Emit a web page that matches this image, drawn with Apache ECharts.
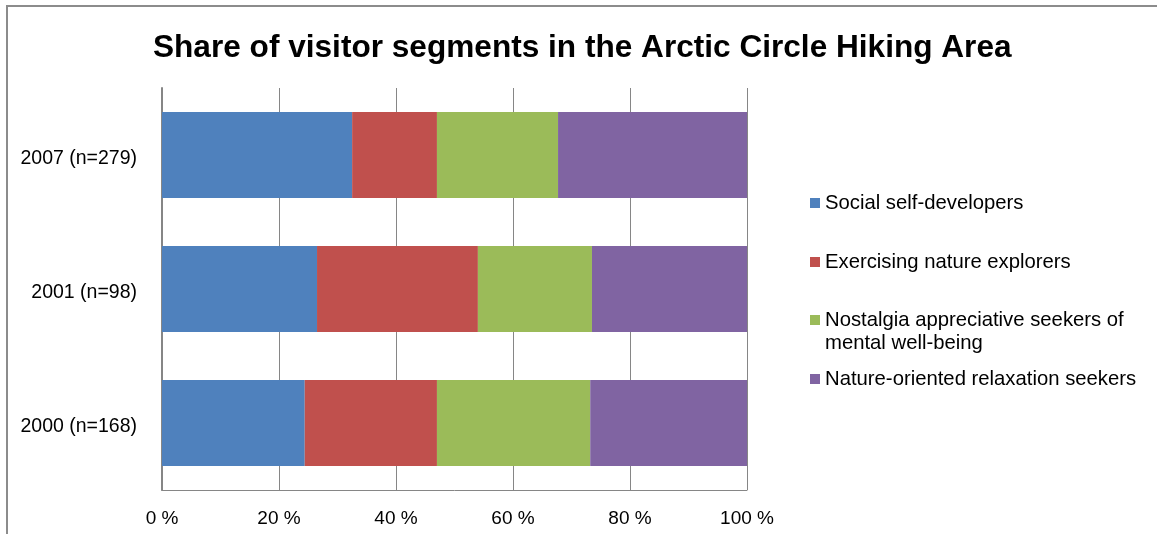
<!DOCTYPE html>
<html>
<head>
<meta charset="utf-8">
<script src="https://cdn.jsdelivr.net/npm/echarts@6/dist/echarts.min.js"></script>
<style>
html,body{margin:0;padding:0;background:#fff;}
#main{width:1157px;height:534px;}
</style>
</head>
<body>
<div id="main"></div>
<script>
var titleText = 'Share of visitor segments in the Arctic Circle Hiking Area';
var categories = ['2000 (n=168)', '2001 (n=98)', '2007 (n=279)'];
var seriesNames = ['Social self-developers', 'Exercising nature explorers', 'Nostalgia appreciative seekers of mental well-being', 'Nature-oriented relaxation seekers'];
var socialSelfDevelopers = [24.4, 26.5, 32.5];
var exercisingNatureExplorers = [22.6, 27.5, 14.5];
var nostalgiaSeekers = [26.2, 19.5, 20.7];
var natureRelaxationSeekers = [26.8, 26.5, 32.3];
var colors = ['#4F81BD', '#C0504D', '#9BBB59', '#8064A2'];

var seriesData = [socialSelfDevelopers, exercisingNatureExplorers, nostalgiaSeekers, natureRelaxationSeekers];
var FONT = 'Liberation Sans, Arial, sans-serif';

var legendTops = [191.5, 250.5, 285.5, 367.5];
var legends = seriesNames.map(function (n, i) {
  return {
    left: 810,
    top: legendTops[i],
    padding: 0,
    orient: 'vertical',
    icon: 'rect',
    itemWidth: 10,
    itemHeight: 10,
    data: [n],
    selectedMode: false,
    formatter: function (name) {
      return name === seriesNames[2] ? ' \nNostalgia appreciative seekers of\nmental well-being' : name;
    },
    textStyle: {
      fontFamily: FONT,
      fontSize: 20.3,
      color: '#000',
      lineHeight: 23
    }
  };
});

var chart = echarts.init(document.getElementById('main'), null, {renderer: 'canvas'});
chart.setOption({
  animation: false,
  color: colors,
  title: {
    text: titleText,
    left: 148,
    top: 27,
    textStyle: {fontFamily: FONT, fontSize: 31.6, fontWeight: 'bold', color: '#000'}
  },
  graphic: [{
    type: 'rect',
    shape: {x: 7, y: 6, width: 1300, height: 700},
    style: {fill: 'none', stroke: '#8c8c8c', lineWidth: 2},
    silent: true
  }],
  legend: legends,
  grid: {left: 162, right: 410, top: 88, bottom: 44, containLabel: false},
  xAxis: {
    type: 'value',
    min: 0,
    max: 100,
    interval: 20,
    axisLine: {show: true, lineStyle: {color: '#868686', width: 1}},
    axisTick: {show: false},
    splitLine: {show: true, lineStyle: {color: '#868686', width: 1}},
    axisLabel: {
      formatter: '{value} %',
      fontFamily: FONT,
      fontSize: 19,
      color: '#000',
      margin: 19
    }
  },
  yAxis: {
    type: 'category',
    data: categories,
    axisLine: {show: true, lineStyle: {color: '#868686', width: 2}},
    axisTick: {show: false},
    axisLabel: {
      formatter: function (v) { return '{a|' + v + '}'; },
      margin: 25,
      rich: {a: {fontFamily: FONT, fontSize: 19.5, color: '#000', padding: [8, 0, 0, 0]}}
    }
  },
  series: seriesNames.map(function (n, i) {
    return {
      name: n,
      type: 'bar',
      stack: 'total',
      barCategoryGap: '36%',
      data: seriesData[i],
      itemStyle: {color: colors[i]}
    };
  })
});
</script>
</body>
</html>
